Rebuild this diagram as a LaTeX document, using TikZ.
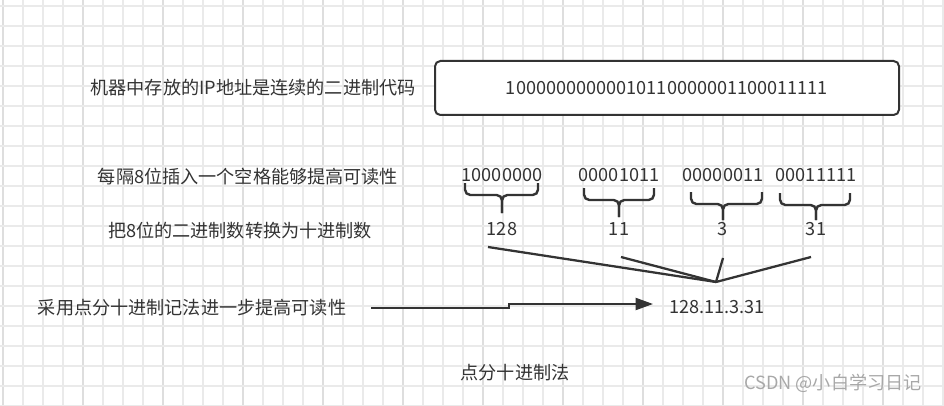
\documentclass[tikz,border=0pt]{standalone}
\usepackage{fontspec}
\setmainfont{Noto Sans CJK SC}
\usetikzlibrary{calc,arrows.meta}
\definecolor{ink}{HTML}{333333}
\definecolor{gridminor}{HTML}{EAEAEA}
\definecolor{gridmajor}{HTML}{DEDEDE}
\definecolor{mark}{HTML}{A8A8A8}

\begin{document}
\begin{tikzpicture}[x=0.75pt,y=-0.75pt,
    every node/.style={font=\fontsize{13.6pt}{16pt}\selectfont,text=ink,inner sep=0pt},
    wire/.style={draw=ink,line width=1.7pt},
    groupbrace/.style={draw=ink,line width=1.8pt,rounded corners=4pt}]

\useasboundingbox (0,0) rectangle (944,406);

% Background grid.
\foreach \x [count=\k from 0] in {3,23,...,943} {
    \ifnum\numexpr\k-4*(\k/4)\relax=0
        \draw[gridmajor,line width=0.8pt] (\x,0) -- (\x,406);
    \else
        \draw[gridminor,line width=0.8pt] (\x,0) -- (\x,406);
    \fi
}
\foreach \y in {6,26,...,406} {
    \draw[gridminor,line width=0.8pt] (0,\y) -- (944,\y);
}

% Left column texts.
\node (stored) at (253,88) {机器中存放的IP地址是连续的二进制代码};
\node (spaced) at (248,177) {每隔8位插入一个空格能够提高可读性};
\node (convert) at (240,231) {把8位的二进制数转换为十进制数};
\node (dotted) at (192,308) {采用点分十进制记法进一步提高可读性};

% Address box.
\node[draw=ink,line width=1.5pt,rounded corners=4pt,fill=white,
      minimum width=348pt,minimum height=40.5pt] (ipbox) at (667,88)
    {10000000000010110000001100011111};

% One octet: bits, brace, decimal value.
\foreach \x/\bits/\dec/\l/\r/\t/\tip in {502/10000000/128/465/538/183/213,
                                          619/00001011/11/584/654/188/217,
                                          723/00000011/3/691/762/192/220,
                                          816/00011111/31/780/850/193/220} {

    % Bits and decimal value.
    \node (bits\dec) at (\x,175) {\bits};
    \node (dec\dec) at (\x,229) {\dec};

    % Brace under the bits.
    \draw[groupbrace] (\l,\t) -- (\l,\t+12) -- (\x,\t+12) -- (\x,\tip);
    \draw[groupbrace] (\r,\t) -- (\r,\t+12) -- (\x,\t+12) -- (\x,\tip);
}

% Lines that meet under the values.
\coordinate (meet) at (716,282);
\foreach \sx/\sy in {488/247,621/257,723/258,811/257} {
    \draw[wire] (\sx,\sy) -- (meet);
}

% Result and the arrow to it.
\node (result) at (717,307) {128.11.3.31};
\coordinate (arrowstart) at (371,308);
\coordinate (arrowend) at (653,304);
\draw[wire,line width=1.5pt,-{Triangle[length=13pt,width=9pt]}]
    (arrowstart) -- (509,308) -- (509,304) -- (arrowend);

% Caption.
\node (caption) at (515,373) {点分十进制法};

% Watermark.
\node[text=mark] (watermark) at (833,383) {CSDN @小白学习日记};

\end{tikzpicture}
\end{document}
